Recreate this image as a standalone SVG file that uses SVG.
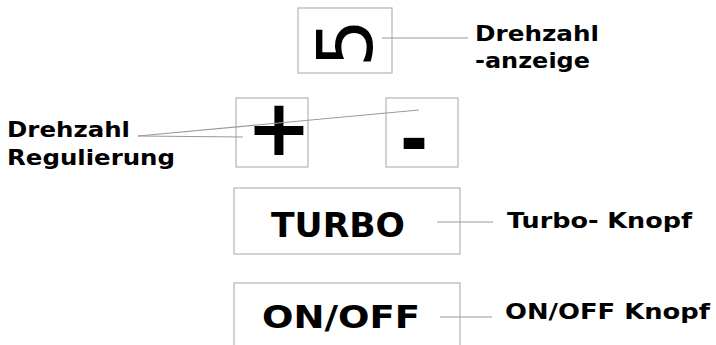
<svg xmlns="http://www.w3.org/2000/svg" width="716" height="345" viewBox="0 0 716 345">
<style>
.box{fill:none;stroke:#b4b4b4;stroke-width:1.2}
.ln{stroke:#9a9a9a;stroke-width:1.2;fill:none}
.lbl{font-family:"DejaVu Sans",Verdana,sans-serif;font-weight:bold;fill:#000;font-size:22px}
.big{font-family:"DejaVu Sans",Verdana,sans-serif;font-weight:bold;fill:#000}
</style>
<rect width="716" height="345" fill="#fff"/>
<g id="display">
<rect class="box" x="298" y="8" width="94" height="65"/>
<text transform="translate(343.5,43) rotate(-90)" x="0" y="28" text-anchor="middle" font-family="'DejaVu Sans',Verdana,sans-serif" font-size="76" fill="#000">5</text>
</g>
<g id="plus">
<rect class="box" x="236" y="98" width="72" height="69"/>
<text class="big" x="279" y="155" text-anchor="middle" font-size="78">+</text>
</g>
<g id="minus">
<rect class="box" x="386" y="98" width="72" height="69"/>
<text class="big" x="414" y="166" text-anchor="middle" font-size="78" textLength="28" lengthAdjust="spacingAndGlyphs">-</text>
</g>
<g id="turbo">
<rect class="box" x="234" y="188" width="226" height="66"/>
<text class="big" x="271" y="237" font-size="33" textLength="134" lengthAdjust="spacingAndGlyphs">TURBO</text>
</g>
<g id="onoff">
<rect class="box" x="234" y="283" width="226" height="80"/>
<text class="big" x="262" y="328" font-size="32" textLength="158" lengthAdjust="spacingAndGlyphs">ON/OFF</text>
</g>
<g id="label-anzeige">
<text class="lbl" x="475" y="41" textLength="124" lengthAdjust="spacingAndGlyphs">Drehzahl</text>
<text class="lbl" x="475" y="68" textLength="115" lengthAdjust="spacingAndGlyphs">-anzeige</text>
</g>
<g id="label-regulierung">
<text class="lbl" x="7" y="137" textLength="123" lengthAdjust="spacingAndGlyphs">Drehzahl</text>
<text class="lbl" x="7" y="165" textLength="168" lengthAdjust="spacingAndGlyphs">Regulierung</text>
</g>
<g id="label-turbo">
<text class="lbl" x="507" y="228" textLength="185" lengthAdjust="spacingAndGlyphs">Turbo- Knopf</text>
</g>
<g id="label-onoff">
<text class="lbl" x="505" y="319" textLength="205" lengthAdjust="spacingAndGlyphs">ON/OFF Knopf</text>
</g>
<g id="connectors">
<line class="ln" x1="382" y1="38" x2="468" y2="38"/>
<line class="ln" x1="138" y1="136" x2="419" y2="110"/>
<line class="ln" x1="138" y1="136" x2="243" y2="137"/>
<line class="ln" x1="437" y1="222" x2="493" y2="222"/>
<line class="ln" x1="440" y1="317" x2="492" y2="317"/>
</g>
</svg>
